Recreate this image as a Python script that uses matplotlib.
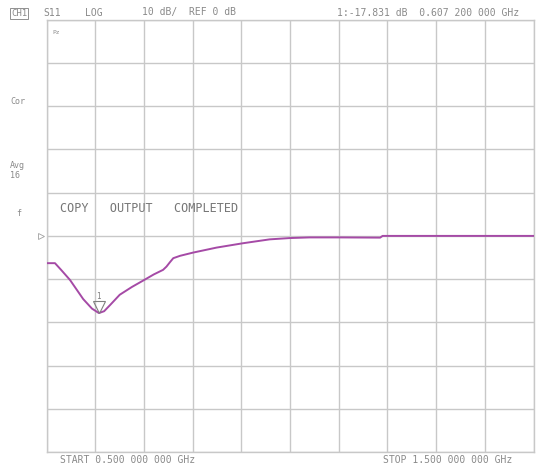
import numpy as np
import matplotlib
matplotlib.use("Agg")
import matplotlib.pyplot as plt

# S11 trace (GHz, dB)
freq = [0.500, 0.517, 0.530, 0.548, 0.575, 0.593, 0.6072, 0.618, 0.630,
        0.650, 0.675, 0.700, 0.720, 0.739, 0.746, 0.753, 0.760, 0.774,
        0.801, 0.849, 0.903, 0.958, 0.999, 1.040, 1.100, 1.185, 1.190,
        1.300, 1.400, 1.500]
s11 = [-6.3, -6.3, -7.9, -10.2, -14.6, -16.8, -17.83, -17.4, -16.0,
       -13.6, -11.8, -10.2, -8.9, -7.85, -7.1, -6.1, -5.15, -4.6,
       -3.85, -2.7, -1.7, -0.8, -0.5, -0.35, -0.35, -0.4, 0.0,
       0.0, 0.0, 0.0]

marker_f = 0.6072
marker_db = -17.831
start_f, stop_f = 0.5, 1.5
ref_db, db_per_div = 0, 10

grey = '#c8c8c8'
txt = '#8a8a8a'
trace_col = '#a54aa6'
mono = 'DejaVu Sans Mono'

W, H = 550, 471
fig = plt.figure(figsize=(W / 100, H / 100), dpi=100)
ax = fig.add_axes([46.7 / W, 1 - 452.3 / H, (533.5 - 46.7) / W, (452.3 - 19.5) / H])

ax.set_xlim(start_f, stop_f)
ax.set_ylim(ref_db - 5 * db_per_div, ref_db + 5 * db_per_div)
ax.set_xticks(np.linspace(start_f, stop_f, 11))
ax.set_yticks(np.arange(-50, 51, db_per_div))
ax.grid(color=grey, linewidth=1.0)
ax.tick_params(length=0, labelbottom=False, labelleft=False)
for s in ax.spines.values():
    s.set_color(grey)
    s.set_linewidth(1.0)

ax.plot(freq, s11, color=trace_col, linewidth=1.4, zorder=3)

# marker 1
ax.plot(marker_f, marker_db + 1.5, marker='v', markersize=8.5, markerfacecolor='none',
        markeredgecolor='#808080', markeredgewidth=0.8, zorder=4)
ax.text(marker_f, marker_db + 3.8, '1', color='#808080', fontsize=5.5,
        family=mono, ha='center', va='center')

# reference position marker
ax.plot(start_f - 0.012, ref_db, marker='>', markersize=4, markerfacecolor='none',
        markeredgecolor='#a0a0a0', markeredgewidth=0.6, clip_on=False)


def ftext(x, y, s, size=7, color=txt, **kw):
    fig.text(x / W, 1 - y / H, s, fontsize=size, color=color, family=mono,
             va='center', **kw)


# header
fig.text(11 / W, 1 - 13.5 / H, 'CH1', fontsize=6.5, color=txt, family=mono, va='center',
         bbox=dict(boxstyle='square,pad=0.15', facecolor='none', edgecolor='#909090', linewidth=0.7))
ftext(43, 12.5, 'S11')
ftext(85, 12.5, 'LOG')
ftext(142, 12.5, '10 dB/  REF 0 dB')
ftext(337, 12.5, '1:-17.831 dB  0.607 200 000 GHz')

# left annotations
ftext(52, 33, 'Pz', size=4.5)
ftext(10, 101, 'Cor', size=6)
ftext(10, 166, 'Avg', size=6)
ftext(10, 176, '16', size=6)
ftext(16, 214, 'f', size=6)

ftext(60, 209, 'COPY   OUTPUT   COMPLETED', size=8.5, color='#777777')

# footer
ftext(60, 460, 'START 0.500 000 000 GHz')
ftext(383, 460, 'STOP 1.500 000 000 GHz')

fig.savefig('out.png', dpi=100, facecolor='white')
